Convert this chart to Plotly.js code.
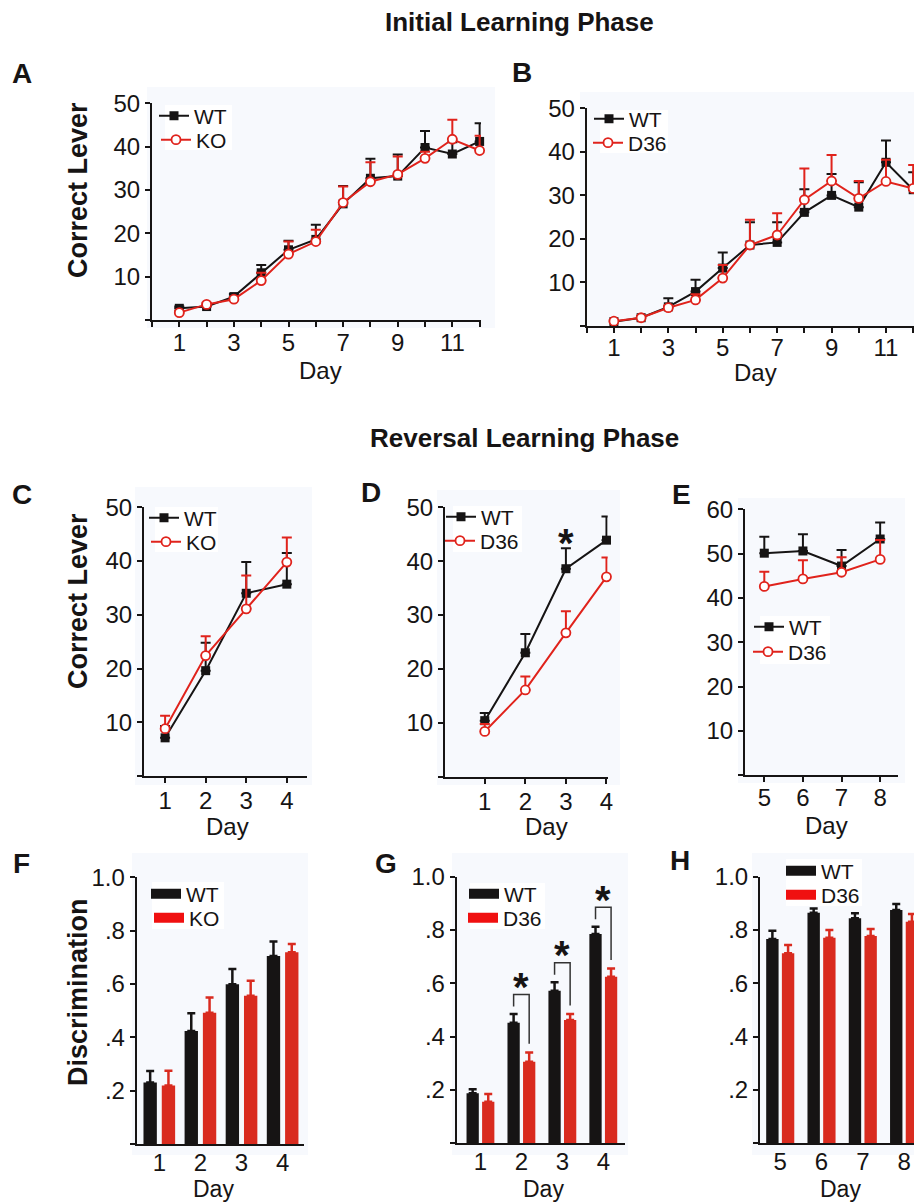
<!DOCTYPE html>
<html>
<head>
<meta charset="utf-8">
<script src="https://cdn.plot.ly/plotly-3.0.1.min.js"></script>
<style>html,body{margin:0;padding:0;background:#fff;}#chart{width:914px;height:1203px;}</style>
</head>
<body>
<div id="chart"></div>
<script>
// ---------- DATA ----------
const daysInitial = [1,2,3,4,5,6,7,8,9,10,11,12];
const wtA    = [2.7, 3.1, 5.4, 10.9, 16.2, 18.6, 26.8, 32.7, 33.2, 39.8, 38.3, 41.2];
const wtAerr = [0.4, 0.4, 0.6, 1.8, 2.1, 3.4, 4.1, 4.5, 5.0, 3.8, 2.7, 4.2];
const koA    = [1.7, 3.6, 4.8, 9.1, 15.2, 18.1, 27.1, 31.9, 33.6, 37.3, 41.7, 39.1];
const koAerr = [0.4, 0.4, 0.5, 1.8, 2.9, 2.7, 3.7, 4.5, 4.1, 1.5, 4.5, 3.4];

const wtB     = [1.0, 1.9, 4.4, 7.9, 13.3, 18.6, 19.2, 26.1, 30.0, 27.3, 37.6, 31.3];
const wtBerr  = [0.3, 0.3, 2.0, 2.7, 3.6, 5.2, 4.6, 5.3, 4.9, 5.7, 5.0, 4.0];
const d36B    = [1.1, 1.9, 4.2, 6.0, 11.0, 18.6, 20.9, 29.0, 33.3, 29.3, 33.2, 31.6];
const d36Berr = [0.3, 0.3, 0.5, 1.3, 3.0, 5.8, 5.0, 7.2, 6.0, 4.0, 5.0, 5.4];

const daysRev = [1,2,3,4];
const wtC    = [7.1, 19.6, 34.0, 35.7];
const wtCerr = [2.2, 5.2, 5.8, 5.8];
const koC    = [8.8, 22.4, 31.1, 39.8];
const koCerr = [2.4, 3.6, 6.2, 4.6];

const wtD     = [10.4, 23.0, 38.6, 43.9];
const wtDerr  = [1.4, 3.5, 3.8, 4.4];
const d36D    = [8.4, 16.1, 26.7, 37.1];
const d36Derr = [1.4, 2.5, 4.0, 3.6];
const sigD    = [3];

const daysLate = [5,6,7,8];
const wtE     = [50.1, 50.6, 47.2, 53.3];
const wtEerr  = [3.7, 3.8, 3.6, 3.7];
const d36E    = [42.6, 44.3, 45.8, 48.7];
const d36Eerr = [3.3, 4.2, 3.4, 4.4];

const wtF    = [0.231, 0.424, 0.599, 0.705];
const wtFerr = [0.043, 0.066, 0.057, 0.054];
const koF    = [0.219, 0.4925, 0.556, 0.719];
const koFerr = [0.056, 0.0565, 0.0565, 0.031];

const wtG     = [0.1875, 0.4525, 0.5725, 0.785];
const wtGerr  = [0.015, 0.0325, 0.0315, 0.0275];
const d36G    = [0.156, 0.306, 0.4625, 0.625];
const d36Gerr = [0.029, 0.035, 0.0225, 0.031];
const sigG    = [2,3,4];

const wtH     = [0.766, 0.865, 0.844, 0.875];
const wtHerr  = [0.0315, 0.016, 0.0185, 0.0225];
const d36H    = [0.7125, 0.771, 0.7775, 0.831];
const d36Herr = [0.0315, 0.029, 0.0265, 0.029];

const countTicks = [0,10,20,30,40,50];
const countTicksE = [0,10,20,30,40,50,60];
const discTicks = [0,0.2,0.4,0.6,0.8,1.0];
const discLabels = ['', '.2', '.4', '.6', '.8', '1.0'];

// ---------- STYLE ----------
const BLACK = '#161414';
const RED = '#e0231c';
const REDBAR = '#d92b1f';
const FONT = 'Liberation Sans, Arial, Helvetica, sans-serif';
const W = 914, H = 1203;
const px = v => v / W;
const py = v => 1 - v / H;
const zeros = a => a.map(() => 0);

// legend rows: [text start x, row centre y] in pixels, one legend per entry
const legendRows = [
  [195,116],[197,140],      // A
  [630,119],[629,143],      // B
  [185,518],[187,542],      // C
  [482,517],[481,541],      // D
  [790,627],[789,652],      // E
  [187,894],[190,918],      // F
  [505,894],[504,918],      // G
  [822,871],[822,895]       // H
];
// white boxes behind each panel's legend: [x0, y0, x1, y1] in pixels
const legendBoxes = [[165,105,232,150],[600,110,668,153],[155,507,218,552],[453,506,522,552],
                     [760,616,830,664],[152,882,224,929],[470,883,545,929],[786,859,862,906]];
let legIdx = 0;
function nextLegend() { legIdx += 1; return legIdx === 1 ? 'legend' : 'legend' + legIdx; }

function lineTrace(x, y, err, name, isWT, ax) {
  const c = isWT ? BLACK : RED;
  return {
    type: 'scatter', mode: 'lines+markers', x: x, y: y, name: name,
    xaxis: 'x' + ax, yaxis: 'y' + ax, legend: nextLegend(), cliponaxis: false,
    line: {color: c, width: 2},
    marker: isWT ? {symbol: 'square', size: 9, color: BLACK}
                 : {symbol: 'circle', size: 9, color: 'white', line: {color: RED, width: 1.8}},
    error_y: {type: 'data', symmetric: false, array: err, arrayminus: zeros(err),
              color: c, thickness: 2, width: 5}
  };
}
function barTrace(x, y, err, name, isWT, ax, w, off) {
  const c = isWT ? BLACK : REDBAR;
  return {
    type: 'bar', x: x, y: y, name: name, xaxis: 'x' + ax, yaxis: 'y' + ax,
    width: w, offset: off, showlegend: false,
    marker: {color: c, line: {width: 0}},
    error_y: {type: 'data', symmetric: false, array: err, arrayminus: zeros(err),
              color: c, thickness: 2.5, width: 4}
  };
}
function legendTrace(name, isWT, ax) {
  return {type: 'scatter', mode: 'lines', x: [null], y: [null], name: name,
          xaxis: 'x' + ax, yaxis: 'y' + ax, legend: nextLegend(),
          line: {color: isWT ? BLACK : '#f01010', width: 12}};
}

const traces = [
  lineTrace(daysInitial, wtA, wtAerr, 'WT', true, ''),
  lineTrace(daysInitial, koA, koAerr, 'KO', false, ''),
  lineTrace(daysInitial, wtB, wtBerr, 'WT', true, '2'),
  lineTrace(daysInitial, d36B, d36Berr, 'D36', false, '2'),
  lineTrace(daysRev, wtC, wtCerr, 'WT', true, '3'),
  lineTrace(daysRev, koC, koCerr, 'KO', false, '3'),
  lineTrace(daysRev, wtD, wtDerr, 'WT', true, '4'),
  lineTrace(daysRev, d36D, d36Derr, 'D36', false, '4'),
  lineTrace(daysLate, wtE, wtEerr, 'WT', true, '5'),
  lineTrace(daysLate, d36E, d36Eerr, 'D36', false, '5'),
  barTrace(daysRev, wtF, wtFerr, 'WT', true, '6', 0.325, -0.385),
  barTrace(daysRev, koF, koFerr, 'KO', false, '6', 0.325, 0.06),
  legendTrace('WT', true, '6'),
  legendTrace('KO', false, '6'),
  barTrace(daysRev, wtG, wtGerr, 'WT', true, '7', 0.3, -0.34),
  barTrace(daysRev, d36G, d36Gerr, 'D36', false, '7', 0.3, 0.04),
  legendTrace('WT', true, '7'),
  legendTrace('D36', false, '7'),
  barTrace(daysLate, wtH, wtHerr, 'WT', true, '8', 0.3, -0.34),
  barTrace(daysLate, d36H, d36Herr, 'D36', false, '8', 0.3, 0.04),
  legendTrace('WT', true, '8'),
  legendTrace('D36', false, '8')
];

const axBase = {
  showgrid: false, zeroline: false, showline: true, linecolor: BLACK, linewidth: 2,
  ticks: 'outside', ticklen: 5, tickwidth: 2, tickcolor: BLACK,
  tickfont: {family: FONT, size: 24, color: BLACK}, fixedrange: true, tickmode: 'array'
};
function xAxis(d0, d1, r, vals, labels, anchor, noTicks, standoff) {
  return Object.assign({}, axBase, {domain: [px(d0), d1 === 1 ? 1 : px(d1)], range: r,
    tickvals: vals, ticktext: labels, anchor: anchor, ticks: noTicks ? '' : 'outside',
    ticklabelstandoff: standoff || 0});
}
function yAxis(d0, d1, r, vals, labels, anchor) {
  return Object.assign({}, axBase, {domain: [py(d1), py(d0)], range: r,
    tickvals: vals, ticktext: labels, anchor: anchor});
}
const initVals = [0].concat(daysInitial);
const initLabels = initVals.map(d => (d % 2 === 1 ? String(d) : ''));
const cntLabels = countTicks.map(v => (v === 0 ? '' : String(v)));
const cntLabelsE = countTicksE.map(v => (v === 0 ? '' : String(v)));

const annotations = [];
function txt(x, y, text, size, bold, extra) {
  annotations.push(Object.assign({x: px(x), y: py(y), xref: 'paper', yref: 'paper', showarrow: false,
    xanchor: 'center', yanchor: 'middle',
    text: bold ? '<b>' + text + '</b>' : text, font: {family: FONT, size: size, color: BLACK}}, extra || {}));
}
txt(519, 22, 'Initial Learning Phase', 26, true);
txt(524, 438, 'Reversal Learning Phase', 26, true);
[['A',22,74],['B',522,72],['C',22,494],['D',371,493],['E',681,494],['F',21,863],['G',386,863],['H',680,860]]
  .forEach(l => txt(l[1], l[2], l[0], 28, true));
txt(78, 190, 'Correct Lever', 27, true, {textangle: -90});
txt(78, 601, 'Correct Lever', 27, true, {textangle: -90});
txt(78, 992, 'Discrimination', 27, true, {textangle: -90});
[[320,370],[755,373],[227,826],[546,826],[826,825]]
  .forEach(p => txt(p[0], p[1], 'Day', 24, false));
[[213,1189],[543,1189],[840,1189]]
  .forEach(p => txt(p[0], p[1], 'Day', 23, false));

// significance stars (D) from data
sigD.forEach(d => {
  const i = daysRev.indexOf(d);
  annotations.push({x: d, y: wtD[i] + wtDerr[i] + 1.0, xref: 'x4', yref: 'y4', showarrow: false,
    yanchor: 'middle', text: '<b>*</b>', font: {family: FONT, size: 40, color: BLACK}});
});

// background panels, legend boxes, brackets and stars (G)
const shapes = [];
const bgRects = [[147,87,495,328],[580,92,914,330],[135,487,312,785],[437,490,620,785],
                 [738,498,905,783],[132,853,308,1155],[452,853,628,1155],[752,853,914,1155]];
bgRects.forEach(r => shapes.push({type: 'rect', xref: 'paper', yref: 'paper', layer: 'below',
  x0: px(r[0]), x1: px(r[2]), y0: py(r[3]), y1: py(r[1]), fillcolor: '#f7f9fd', line: {width: 0}}));
legendBoxes.forEach(r => shapes.push({type: 'rect', xref: 'paper', yref: 'paper', layer: 'below',
  x0: px(r[0]), x1: px(r[2]), y0: py(r[3]), y1: py(r[1]), fillcolor: '#ffffff', line: {width: 0}}));
sigG.forEach(d => {
  const i = daysRev.indexOf(d);
  const yL = wtG[i] + wtGerr[i] + 0.028;
  const yR = d36G[i] + d36Gerr[i] + 0.032;
  const top = Math.max(yL, yR) + 0.045;
  const xl = d - 0.19, xr = d + 0.19;
  shapes.push({type: 'path', xref: 'x7', yref: 'y7',
    path: `M${xl},${yL} L${xl},${top} L${xr},${top} L${xr},${yR}`,
    line: {color: '#333', width: 1.5}});
  annotations.push({x: d, y: top + 0.028, xref: 'x7', yref: 'y7', showarrow: false,
    yanchor: 'middle', text: '<b>*</b>', font: {family: FONT, size: 40, color: BLACK}});
});

const layout = {
  width: W, height: H, margin: {l: 0, r: 0, t: 0, b: 0},
  paper_bgcolor: '#ffffff', plot_bgcolor: 'rgba(0,0,0,0)',
  font: {family: FONT, color: BLACK}, barmode: 'overlay', hovermode: false,
  xaxis:  xAxis(152, 481, [0, 12.05], initVals, initLabels, 'y', false, -5),
  yaxis:  yAxis(103.3, 320, [0, 50], countTicks, cntLabels, 'x'),
  xaxis2: xAxis(586.7, 1, [0, 12.03], initVals, initLabels, 'y2', false, -6),
  yaxis2: yAxis(108.3, 326, [0, 50], countTicks, cntLabels, 'x2'),
  xaxis3: xAxis(144, 306.7, [0.48, 4.49], daysRev, daysRev.map(String), 'y3', false, -3),
  yaxis3: yAxis(507.3, 776, [0, 50], countTicks, cntLabels, 'x3'),
  xaxis4: xAxis(445, 607.7, [0.02, 4.03], daysRev, daysRev.map(String), 'y4', false, -3),
  yaxis4: yAxis(507.3, 776.7, [0, 50], countTicks, cntLabels, 'x4'),
  xaxis5: xAxis(745, 898.3, [4.5, 8.47], daysLate, daysLate.map(String), 'y5', false, -5),
  yaxis5: yAxis(509.3, 775.3, [0, 60], countTicksE, cntLabelsE, 'x5'),
  xaxis6: xAxis(136.7, 304, [0.45, 4.52], daysRev, daysRev.map(String), 'y6', true, -4),
  yaxis6: yAxis(877.3, 1144, [0, 1], discTicks, discLabels, 'x6'),
  xaxis7: xAxis(456.7, 625, [0.42, 4.53], daysRev, daysRev.map(String), 'y7', true, -4),
  yaxis7: yAxis(876.7, 1143.3, [0, 1], discTicks, discLabels, 'x7'),
  xaxis8: xAxis(760, 1, [4.51, 8.24], daysLate, daysLate.map(String), 'y8', true, -4),
  yaxis8: yAxis(876.7, 1143.3, [0, 1], discTicks, discLabels, 'x8'),
  annotations: annotations,
  shapes: shapes
};
legendRows.forEach((r, k) => {
  layout[k === 0 ? 'legend' : 'legend' + (k + 1)] = {
    x: px(r[0] - 41), y: py(r[1]), xanchor: 'left', yanchor: 'middle', xref: 'paper', yref: 'paper',
    bgcolor: 'rgba(0,0,0,0)', borderwidth: 0,
    font: {family: FONT, size: 21, color: BLACK}, itemwidth: 30
  };
});

Plotly.newPlot('chart', traces, layout, {staticPlot: true, displayModeBar: false});
</script>
</body>
</html>
